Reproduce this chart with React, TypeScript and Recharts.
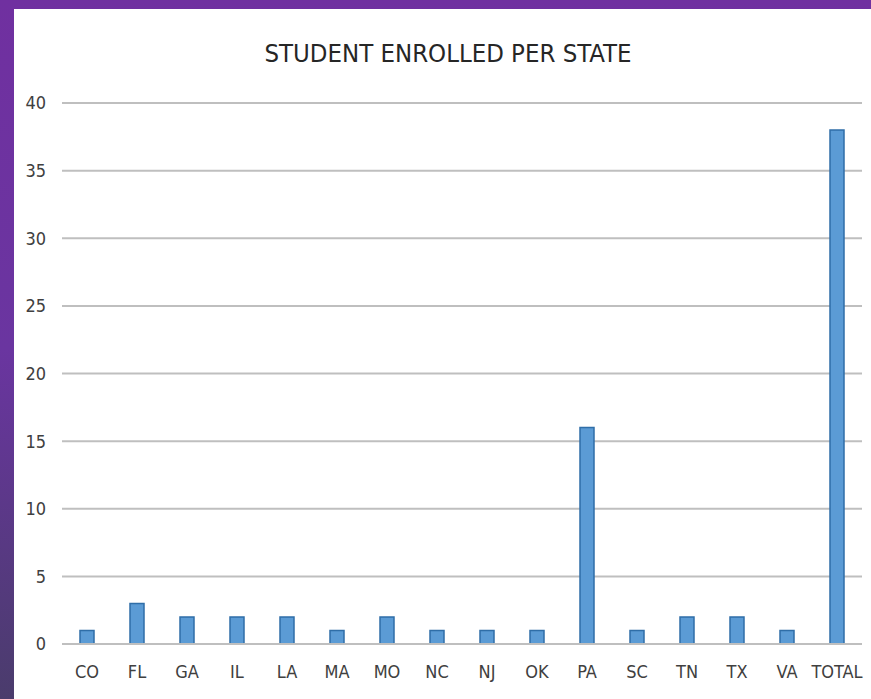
import { Bar, BarChart, CartesianGrid, XAxis, YAxis } from 'recharts'

const states = ['CO', 'FL', 'GA', 'IL', 'LA', 'MA', 'MO', 'NC', 'NJ', 'OK', 'PA', 'SC', 'TN', 'TX', 'VA', 'TOTAL']
const enrolled = [1, 3, 2, 2, 2, 1, 2, 1, 1, 1, 16, 1, 2, 2, 1, 38]
const yTicks = [0, 5, 10, 15, 20, 25, 30, 35, 40]

const data = states.map((state, i) => ({ state, value: enrolled[i] }))

const font = '"DejaVu Sans Condensed", "Liberation Sans", sans-serif'
const tickStyle = { fill: '#404040', fontSize: 18, fontFamily: font }

export default function App() {
    return (
        <div
            style={{
                position: 'absolute',
                left: 0,
                top: 0,
                width: 871,
                height: 699,
                background: 'linear-gradient(180deg, #7030a0 0%, #6a35a0 50%, #4a3c6c 100%)',
                overflow: 'hidden',
            }}
        >
            <div
                style={{
                    position: 'absolute',
                    left: 14,
                    top: 9,
                    width: 857,
                    height: 690,
                    background: '#fff',
                }}
            />
            <div
                style={{
                    position: 'absolute',
                    left: 14,
                    top: 36,
                    width: 868,
                    textAlign: 'center',
                    fontFamily: font,
                    fontSize: 25.5,
                    color: '#262626',
                    lineHeight: '34px',
                }}
            >
                STUDENT ENROLLED PER STATE
            </div>
            <div style={{ position: 'absolute', left: 0, top: 0 }}>
                <BarChart
                    width={871}
                    height={699}
                    data={data}
                    margin={{ top: 103, right: 9, left: 12, bottom: 25 }}
                    barSize={14}
                >
                    <CartesianGrid vertical={false} stroke="#bfbfbf" strokeWidth={2} />
                    <XAxis
                        dataKey="state"
                        height={30}
                        interval={0}
                        tick={tickStyle}
                        tickLine={false}
                        tickSize={0}
                        tickMargin={21}
                        axisLine={{ stroke: '#bfbfbf', strokeWidth: 2 }}
                    />
                    <YAxis
                        width={50}
                        domain={[0, 40]}
                        ticks={yTicks}
                        tick={tickStyle}
                        tickLine={false}
                        tickSize={0}
                        tickMargin={16}
                        axisLine={false}
                    />
                    <Bar
                        dataKey="value"
                        fill="#5b9bd5"
                        stroke="#2f6ea8"
                        strokeWidth={1.5}
                        isAnimationActive={false}
                    />
                </BarChart>
            </div>
        </div>
    )
}
